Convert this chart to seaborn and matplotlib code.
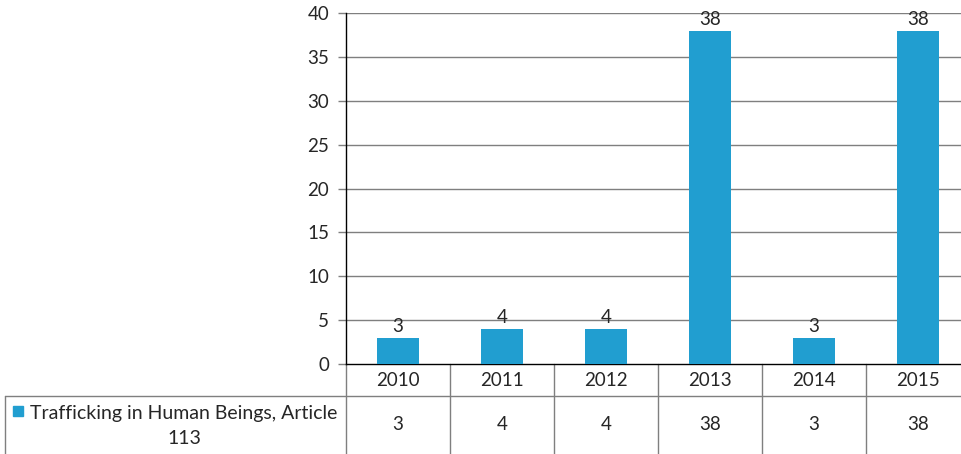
import matplotlib
matplotlib.use('Agg')
import matplotlib.pyplot as plt
from matplotlib.lines import Line2D
from matplotlib.patches import Rectangle
from matplotlib.transforms import blended_transform_factory
import seaborn as sns
import pandas as pd

# ---- data ----
years = ['2010', '2011', '2012', '2013', '2014', '2015']
values = [3, 4, 4, 38, 3, 38]
series_name_line1 = 'Trafficking in Human Beings, Article'
series_name_line2 = '113'
yticks = [0, 5, 10, 15, 20, 25, 30, 35, 40]

BLUE = '#219ED0'
GRID = '#7F7F7F'
FS = 13

sns.set_style('white')
plt.rcParams['font.family'] = ['Lato', 'DejaVu Sans']

W, H = 962, 454
fig = plt.figure(figsize=(W / 100, H / 100), dpi=100)

x0, x1, ytop, ybot = 346, 970, 13, 364
ax = fig.add_axes([x0 / W, 1 - ybot / H, (x1 - x0) / W, (ybot - ytop) / H])

df = pd.DataFrame({'year': years, 'value': values})
sns.barplot(data=df, x='year', y='value', color=BLUE, saturation=1,
            width=0.4, ax=ax, zorder=3, edgecolor='none', linewidth=0)

ax.set_xlim(-0.5, len(years) - 0.5)
ax.set_ylim(0, 40)
ax.set_yticks(yticks)
ax.set_yticklabels([str(t) for t in yticks], fontsize=FS + 0.5)
ax.set_xticks([])
ax.set_xlabel('')
ax.set_ylabel('')
for t in yticks[1:]:
    ax.axhline(t, color=GRID, lw=1, zorder=1)
ax.tick_params(axis='y', length=6, width=1, color=GRID, pad=6, left=True)
for s in ['top', 'right']:
    ax.spines[s].set_visible(False)
ax.spines['left'].set_color('#000000')
ax.spines['left'].set_linewidth(1)
ax.spines['bottom'].set_color('#000000')
ax.spines['bottom'].set_linewidth(1)

# value labels above bars
for c in ax.containers:
    ax.bar_label(c, labels=[str(v) for v in values], padding=2, fontsize=FS + 0.5)

# ---- data table below ----
axh = ybot - ytop
def ay(py):
    return (ybot - py) / axh

tr = blended_transform_factory(ax.transData, ax.transAxes)
for i in range(len(years) + 1):
    ax.add_line(Line2D([i - 0.5, i - 0.5], [0, ay(470)], transform=tr,
                       color=GRID, lw=1, clip_on=False))
for i, (y, v) in enumerate(zip(years, values)):
    ax.text(i, ay(380), y, transform=tr, ha='center', va='center', fontsize=FS + 0.5)
    ax.text(i, ay(424), str(v), transform=tr, ha='center', va='center', fontsize=FS + 0.5)

# horizontal rule between header and data row, and legend cell border
fig.add_artist(Line2D([5 / W, x1 / W], [1 - 396 / H, 1 - 396 / H],
                      transform=fig.transFigure, color=GRID, lw=1))
fig.add_artist(Line2D([5 / W, 5 / W], [1 - 396 / H, 1 - 470 / H],
                      transform=fig.transFigure, color=GRID, lw=1))

# legend key inside the table
fig.add_artist(Rectangle((13 / W, 1 - 416 / H), 10 / W, 10 / H,
                         transform=fig.transFigure, color=BLUE))
fig.text(30 / W, 1 - 413 / H, series_name_line1, ha='left', va='center', fontsize=14)
fig.text(184 / W, 1 - 439 / H, series_name_line2, ha='center', va='center', fontsize=14)

fig.savefig('out.png', dpi=100)
